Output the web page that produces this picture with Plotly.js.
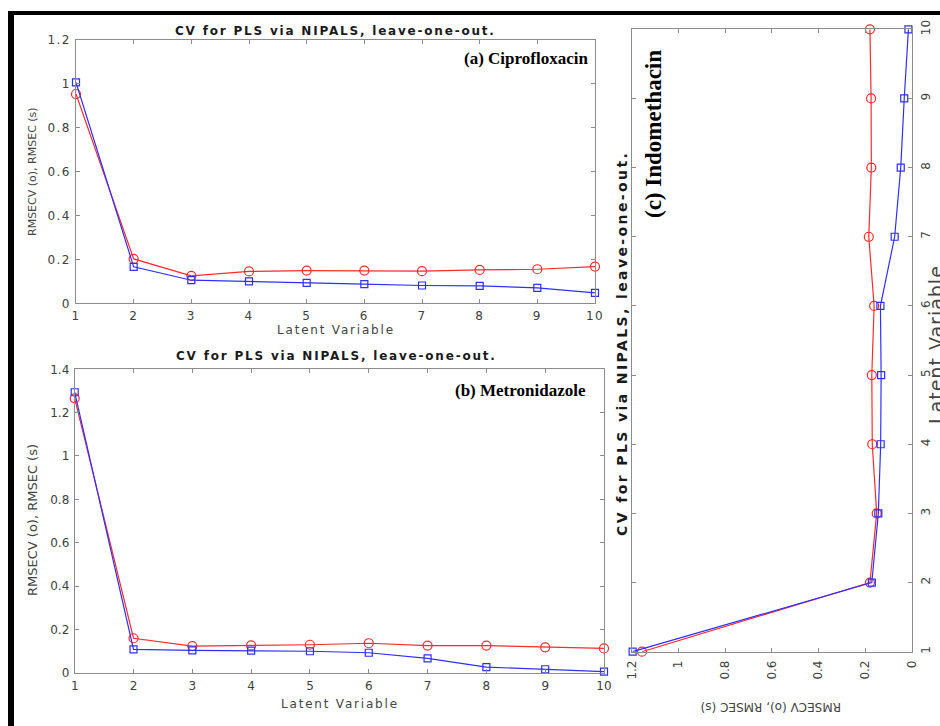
<!DOCTYPE html>
<html>
<head>
<meta charset="utf-8">
<script src="https://cdn.plot.ly/plotly-3.0.1.min.js"></script>
<style>
  html, body { margin: 0; padding: 0; background: #ffffff; }
  #chart { width: 940px; height: 726px; }
  .xtick text, .ytick text { letter-spacing: 1.3px; }
</style>
</head>
<body>
<div id="chart"></div>
<script>
// ---------- data ----------
const latentVars = [1, 2, 3, 4, 5, 6, 7, 8, 9, 10];

// (a) Ciprofloxacin
const ciproRMSECV = [0.952, 0.202, 0.125, 0.145, 0.149, 0.149, 0.146, 0.152, 0.155, 0.167];
const ciproRMSEC  = [1.005, 0.166, 0.105, 0.100, 0.093, 0.087, 0.081, 0.079, 0.070, 0.047];

// (b) Metronidazole
const metroRMSECV = [1.266, 0.159, 0.123, 0.126, 0.129, 0.136, 0.125, 0.125, 0.117, 0.112];
const metroRMSEC  = [1.294, 0.108, 0.103, 0.102, 0.099, 0.092, 0.066, 0.026, 0.016, 0.005];

// (c) Indomethacin (panel drawn rotated: latent variable vertical)
const indoRMSECV = [1.156, 0.179, 0.150, 0.169, 0.171, 0.161, 0.184, 0.173, 0.174, 0.179];
const indoRMSEC  = [1.196, 0.171, 0.143, 0.133, 0.131, 0.134, 0.073, 0.047, 0.032, 0.014];

const rmseTicksA = [0, 0.2, 0.4, 0.6, 0.8, 1, 1.2];
const rmseTicksB = [0, 0.2, 0.4, 0.6, 0.8, 1, 1.2, 1.4];

const plotTitle = 'CV for PLS via NIPALS, leave-one-out.';
const xLabel = 'Latent Variable';
const yLabel = 'RMSECV (o), RMSEC (s)';
const panelLabels = ['(a) Ciprofloxacin', '(b) Metronidazole', '(c) Indomethacin'];

// ---------- styling ----------
const RED = '#ff2a2a';
const BLUE = '#2f2fff';

function cvTrace(x, y, xa, ya) {
  return { x: x, y: y, xaxis: xa, yaxis: ya, type: 'scatter', mode: 'lines+markers',
    cliponaxis: false, hoverinfo: 'skip',
    line: { color: RED, width: 1.2 },
    marker: { symbol: 'circle-open', size: 9, color: RED, line: { width: 1.2, color: RED } } };
}
function cTrace(x, y, xa, ya) {
  return { x: x, y: y, xaxis: xa, yaxis: ya, type: 'scatter', mode: 'lines+markers',
    cliponaxis: false, hoverinfo: 'skip',
    line: { color: BLUE, width: 1.2 },
    marker: { symbol: 'square-open', size: 7, color: BLUE, line: { width: 1.2, color: BLUE } } };
}

const data = [
  cvTrace(latentVars, ciproRMSECV, 'x', 'y'),
  cTrace(latentVars, ciproRMSEC, 'x', 'y'),
  cvTrace(latentVars, metroRMSECV, 'x2', 'y2'),
  cTrace(latentVars, metroRMSEC, 'x2', 'y2'),
  cvTrace(indoRMSECV, latentVars, 'x3', 'y3'),
  cTrace(indoRMSEC, latentVars, 'x3', 'y3')
];

const W = 940, H = 726;
const px = v => v / W;
const py = v => 1 - v / H;

function ax(extra) {
  return Object.assign({
    showline: true, mirror: 'ticks', linecolor: '#8c8c8c', linewidth: 1,
    ticks: 'inside', ticklen: 4, tickcolor: '#8c8c8c', tickwidth: 1,
    showgrid: false, zeroline: false, fixedrange: true,
    tickfont: { family: 'DejaVu Sans, Arial, sans-serif', size: 12, color: '#404040' }
  }, extra);
}

function sp(text, spacing) {
  return '<span style="letter-spacing:' + spacing + 'px">' + text + '</span>';
}

const GRAY_TXT = '#444444';
const SANS = 'DejaVu Sans, Arial, sans-serif';
const SERIF = 'Liberation Serif, Times New Roman, serif';

const annotations = [
  // panel (a)
  { text: sp(plotTitle, 1.8), x: px(335), y: py(31), font: { family: SANS, size: 12, color: '#1a1a1a', weight: 'bold' } },
  { text: sp(xLabel, 1.8), x: px(336), y: py(330), font: { family: SANS, size: 12, color: GRAY_TXT } },
  { text: yLabel, x: px(33), y: py(172), textangle: -90, font: { family: SANS, size: 11, color: GRAY_TXT } },
  { text: '<b>' + panelLabels[0] + '</b>', x: px(526), y: py(59), font: { family: SERIF, size: 17, color: '#000000' } },
  // panel (b)
  { text: sp(plotTitle, 1.8), x: px(336), y: py(356), font: { family: SANS, size: 12, color: '#1a1a1a', weight: 'bold' } },
  { text: sp(xLabel, 1.8), x: px(340), y: py(704), font: { family: SANS, size: 12, color: GRAY_TXT } },
  { text: yLabel, x: px(32), y: py(520), textangle: -90, font: { family: SANS, size: 13, color: GRAY_TXT } },
  { text: '<b>' + panelLabels[1] + '</b>', x: px(520), y: py(391), font: { family: SERIF, size: 17, color: '#000000' } },
  // panel (c) rotated
  { text: sp(plotTitle, 2.4), x: px(622), y: py(344), textangle: -90, font: { family: SANS, size: 14, color: '#1a1a1a', weight: 'bold' } },
  { text: '<b>' + panelLabels[2] + '</b>', x: px(654), y: py(134), textangle: -90, font: { family: SERIF, size: 23, color: '#000000' } },
  { text: yLabel, x: px(771), y: py(707), textangle: 180, font: { family: SANS, size: 12, color: GRAY_TXT } },
  { text: sp(xLabel, 1), x: px(936), y: py(345), textangle: -90, font: { family: SANS, size: 19, color: GRAY_TXT } }
].map(a => Object.assign({ xref: 'paper', yref: 'paper', xanchor: 'center', yanchor: 'middle', showarrow: false }, a));

const layout = {
  width: W, height: H,
  margin: { l: 0, r: 0, t: 0, b: 0, pad: 0 },
  paper_bgcolor: '#ffffff', plot_bgcolor: '#ffffff',
  showlegend: false,
  xaxis: ax({ domain: [px(76), px(595)], range: [1, 10], tickvals: latentVars, anchor: 'y', ticklabelstandoff: 1 }),
  yaxis: ax({ domain: [py(303.3), py(39.5)], range: [0, 1.2], tickvals: rmseTicksA, anchor: 'x', ticklabelstandoff: 2 }),
  xaxis2: ax({ domain: [px(74.7), px(604)], range: [1, 10], tickvals: latentVars, anchor: 'y2', ticklabelstandoff: 2 }),
  yaxis2: ax({ domain: [py(672.7), py(369.3)], range: [0, 1.4], tickvals: rmseTicksB, anchor: 'x2', ticklabelstandoff: 2 }),
  xaxis3: ax({ domain: [px(631.7), px(911.7)], range: [1.2, 0], tickvals: rmseTicksA, anchor: 'y3', tickangle: -90, ticklabelstandoff: 3 }),
  yaxis3: ax({ domain: [py(651.7), py(29.3)], range: [1, 10], tickvals: latentVars, anchor: 'x3', side: 'right', tickangle: -90, ticklabelstandoff: 3 }),
  annotations: annotations,
  shapes: [
    { type: 'rect', xref: 'paper', yref: 'paper', x0: px(8), x1: 1, y0: py(15), y1: py(11), fillcolor: '#000000', line: { width: 0 } },
    { type: 'rect', xref: 'paper', yref: 'paper', x0: px(8), x1: px(14), y0: 0, y1: py(11), fillcolor: '#000000', line: { width: 0 } }
  ]
};

Plotly.newPlot('chart', data, layout, { displayModeBar: false, staticPlot: true });
</script>
</body>
</html>
